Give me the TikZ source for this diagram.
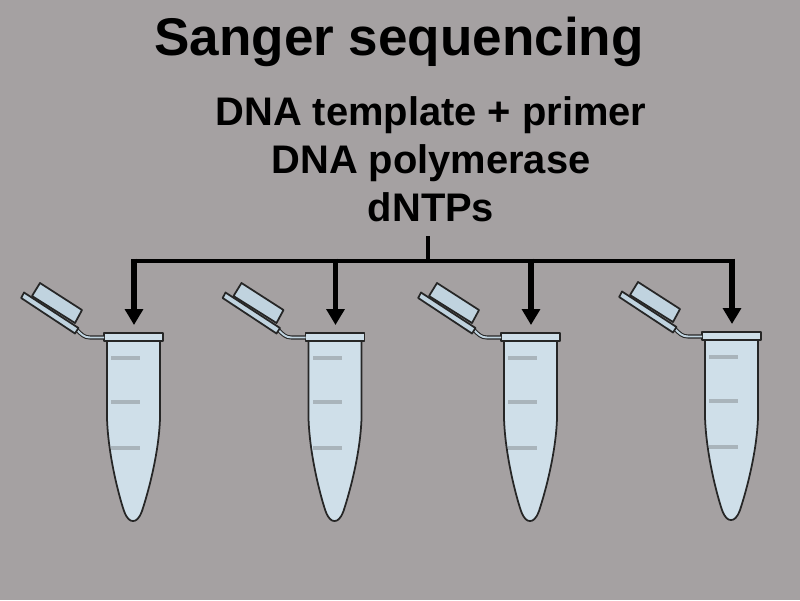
\documentclass[tikz,border=0pt]{standalone}
\usepackage{fontspec}
\setmainfont{Liberation Sans}
\usetikzlibrary{arrows.meta}
\definecolor{bggray}{HTML}{A5A1A2}
\definecolor{tubeblue}{HTML}{CFDFE9}
\definecolor{lidblue}{HTML}{C0D3DF}
\definecolor{tickgray}{HTML}{A9B4BB}
\tikzset{
    tubeline/.style={draw=black!85, line width=1pt, line join=round},
    feedline/.style={line width=2.6pt},
    feedarrow/.style={line width=2.9pt, -{Triangle[width=10pt,length=9pt]}},
    tube/.pic={
        % body, then marks, then rim
        \draw[tubeline, fill=tubeblue] (-27,8) -- (-27,85)
            .. controls (-26,120) and (-16,160) .. (-10,178)
            .. controls (-7,186) and (-4,188) .. (-1,188)
            .. controls (2,188) and (5,186) .. (8,178)
            .. controls (14,160) and (25,120) .. (26,85) -- (26,8) -- cycle;
        \foreach \tick in {25,69,115} \fill[tickgray] (-23,\tick-2) rectangle (6,\tick+2);
        \draw[tubeline, fill=tubeblue] (-30,0) rectangle (29,8);
        % hinge and lid
        \draw[black!85, line width=2.3pt] (-30,4.5) -- (-44,4.5) .. controls (-50,4.5) and (-53,1) .. (-57,-3);
        \draw[lidblue, line width=1.1pt] (-30,4.5) -- (-44,4.5) .. controls (-50,4.5) and (-53,1) .. (-57,-3);
        \draw[tubeline, fill=lidblue] (-110,-40.5) -- (-112.8,-35) -- (-59,0.5) -- (-55.5,-5) -- cycle;
        \draw[tubeline, fill=lidblue] (-94,-50) -- (-52,-23) -- (-59,-10) -- (-102,-37) -- cycle;
        \coordinate (-top) at (0,-8);
    }
}
\begin{document}
\begin{tikzpicture}[x=0.02cm, y=-0.02cm]
    \fill[bggray] (0,0) rectangle (800,600);
    \useasboundingbox (0,0) rectangle (800,600);
    \node (title) at (399,42) {\fontsize{30.2}{34}\bfseries Sanger sequencing};
    \node[align=center, font=\fontsize{22.7}{27.3}\selectfont\bfseries] (mix) at (431,159) {DNA template + primer\\DNA polymerase\\dNTPs};
    \pic (tubeA) at (134,333) {tube};
    \pic (tubeB) at (335.5,333) {tube};
    \pic (tubeC) at (531,333) {tube};
    \pic (tubeD) at (732,332) {tube};
    \coordinate (stem) at (428,236);
    \coordinate (junction) at (428,261);
    \coordinate (barA) at (tubeA-top |- junction);
    \coordinate (barB) at (tubeB-top |- junction);
    \coordinate (barC) at (tubeC-top |- junction);
    \coordinate (barD) at (tubeD-top |- junction);
    \draw[feedline] (stem) -- (junction);
    \draw[feedline] (barA) -- (barD);
    \foreach \name in {A,B,C,D} \draw[feedarrow] ([yshift=1.3pt]bar\name) -- (tube\name-top);
\end{tikzpicture}
\end{document}
